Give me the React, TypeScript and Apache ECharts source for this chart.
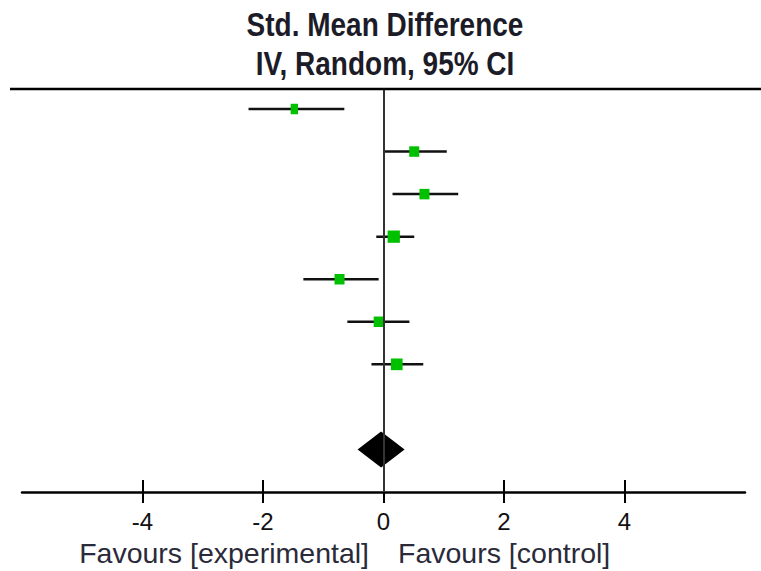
import React, { useEffect, useRef } from "react";
import * as echarts from "echarts";

// Study rows (top to bottom): row index, SMD, 95% CI, weight (%)
const rowIndex = [0, 1, 2, 3, 4, 5, 6];
const smd = [-1.48, 0.51, 0.68, 0.17, -0.73, -0.08, 0.22];
const ciLow = [-2.24, 0.0, 0.15, -0.12, -1.33, -0.6, -0.2];
const ciHigh = [-0.65, 1.05, 1.24, 0.51, -0.08, 0.43, 0.66];
const weights = [7.2, 13.5, 13.5, 20.4, 13.5, 13.5, 18.5];

// Pooled estimate (random effects)
const pooledRow = 8;
const pooledEst = -0.04;
const pooledLow = -0.43;
const pooledHigh = 0.35;

const tickValues = [-4, -2, 0, 2, 4];
const titleLines = ["Std. Mean Difference", "IV, Random, 95% CI"];
const favourLabels = ["Favours [experimental]", "Favours [control]"];

const FONT = "'Liberation Sans', Arial, sans-serif";

export default function App() {
  const ref = useRef<HTMLDivElement>(null);

  useEffect(() => {
    if (!ref.current) return;
    const chart = echarts.init(ref.current, null, { renderer: "svg" });

    const studyData = rowIndex.map((r, i) => [r, ciLow[i], smd[i], ciHigh[i], weights[i]]);
    const pooledData = [[pooledRow, pooledLow, pooledEst, pooledHigh]];

    const titleText = (text: string, y: number) => ({
      type: "text",
      x: 385,
      y,
      scaleY: 1.18,
      style: {
        text,
        fontFamily: FONT,
        fontWeight: "bold",
        fontSize: 28,
        fill: "#1c1c28",
        textAlign: "center",
        textVerticalAlign: "middle",
      },
    });

    const option: any = {
      animation: false,
      backgroundColor: "#ffffff",
      grid: { left: 22, right: 16, top: 89, bottom: 79, containLabel: false },
      xAxis: [
        {
          type: "value",
          min: -6,
          max: 6,
          position: "bottom",
          axisLine: { show: true, onZero: false, lineStyle: { color: "#000", width: 2.5 } },
          axisTick: { show: true, inside: false, length: 11, customValues: tickValues, lineStyle: { color: "#000", width: 2 } },
          axisLabel: {
            show: true,
            customValues: tickValues,
            margin: 17,
            fontFamily: FONT,
            fontSize: 24,
            color: "#111",
          },
          splitLine: { show: false },
        },
        {
          type: "value",
          min: -6,
          max: 6,
          position: "bottom",
          axisLine: { show: false, onZero: false },
          axisTick: { show: true, inside: true, length: 12, customValues: tickValues, lineStyle: { color: "#000", width: 2 } },
          axisLabel: { show: false },
          splitLine: { show: false },
        },
      ],
      yAxis: {
        type: "value",
        inverse: true,
        min: -0.47,
        max: 9.0,
        show: false,
        splitLine: { show: false },
      },
      graphic: [
        titleText(titleLines[0], 24.5),
        titleText(titleLines[1], 63),
        {
          type: "line",
          shape: { x1: 10, y1: 89, x2: 761, y2: 89 },
          style: { stroke: "#000", lineWidth: 2.5 },
          z: 10,
        },
        {
          type: "text",
          x: 369,
          y: 553,
          style: {
            text: favourLabels[0],
            fontFamily: FONT,
            fontSize: 28.5,
            fill: "#2a2a3a",
            textAlign: "right",
            textVerticalAlign: "middle",
          },
        },
        {
          type: "text",
          x: 398,
          y: 553,
          style: {
            text: favourLabels[1],
            fontFamily: FONT,
            fontSize: 28.5,
            fill: "#2a2a3a",
            textAlign: "left",
            textVerticalAlign: "middle",
          },
        },
      ],
      series: [
        {
          type: "custom",
          xAxisIndex: 0,
          data: studyData,
          encode: { x: [1, 2, 3], y: 0 },
          z: 3,
          renderItem: (params: any, api: any) => {
            const y = api.value(0);
            const lo = api.coord([api.value(1), y]);
            const est = api.coord([api.value(2), y]);
            const hi = api.coord([api.value(3), y]);
            const w = Math.sqrt(api.value(4)) * 2.72;
            const h = Math.max(w, 10.5);
            return {
              type: "group",
              children: [
                {
                  type: "line",
                  shape: { x1: lo[0], y1: lo[1], x2: hi[0], y2: hi[1] },
                  style: { stroke: "#111", lineWidth: 2.5 },
                },
                {
                  type: "rect",
                  shape: { x: est[0] - w / 2, y: est[1] - h / 2, width: w, height: h },
                  style: { fill: "#00c000" },
                },
              ],
            };
          },
          markLine: {
            silent: true,
            symbol: "none",
            label: { show: false },
            lineStyle: { color: "#333", width: 2, type: "solid" },
            data: [{ xAxis: 0 }],
          },
        },
        {
          type: "custom",
          xAxisIndex: 0,
          data: pooledData,
          encode: { x: [1, 2, 3], y: 0 },
          z: 4,
          renderItem: (params: any, api: any) => {
            const y = api.value(0);
            const lo = api.coord([api.value(1), y]);
            const est = api.coord([api.value(2), y]);
            const hi = api.coord([api.value(3), y]);
            const half = 18;
            return {
              type: "polygon",
              shape: {
                points: [
                  [lo[0], lo[1]],
                  [est[0], est[1] - half],
                  [hi[0], hi[1]],
                  [est[0], est[1] + half],
                ],
              },
              style: { fill: "#000" },
            };
          },
        },
      ],
    };

    chart.setOption(option);
    return () => chart.dispose();
  }, []);

  return (
    <div
      ref={ref}
      style={{ position: "absolute", left: 0, top: 0, width: 761, height: 571, background: "#fff" }}
    />
  );
}
